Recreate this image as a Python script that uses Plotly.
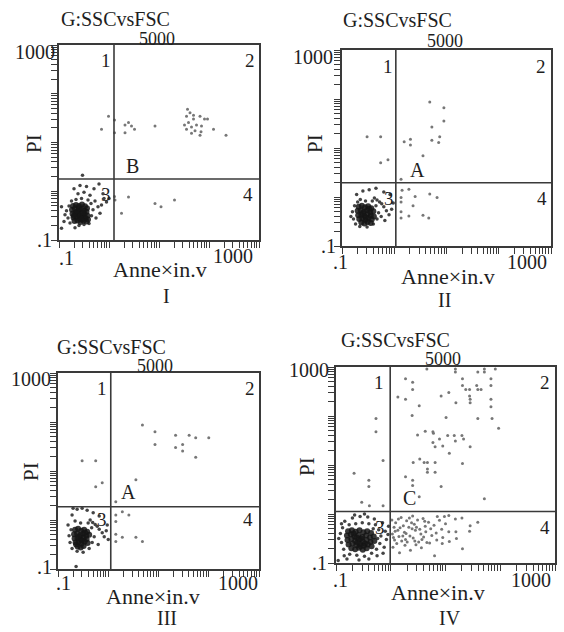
import numpy as np
import plotly.graph_objects as go

W, H = 564, 632

# ---------------- data (values in log10 decades of intensity) ----------------
panel_names = ["I", "II", "III", "IV"]
region_letters = ["B", "A", "A", "C"]
quadrant_labels = ["1", "2", "3", "4"]
x_tick_labels = [".1", "1000"]
y_tick_labels = [".1", "1000"]
top_label = "5000"
gate_title = "G:SSCvsFSC"
x_title = "Anne×in.v"
y_title = "PI"

# quadrant gate positions (log10 units)
gate_x = [0.10, 0.03, 0.05, -0.01]
gate_y = [0.25, 0.29, 0.27, 0.05]

# Panel I
pI_core = [(-0.72,-0.30),(-0.66,-0.28),(-0.60,-0.30),(-0.54,-0.27),(-0.48,-0.31),(-0.44,-0.35),
    (-0.74,-0.38),(-0.68,-0.36),(-0.62,-0.40),(-0.56,-0.37),(-0.50,-0.40),(-0.45,-0.42),
    (-0.73,-0.46),(-0.67,-0.45),(-0.61,-0.48),(-0.55,-0.45),(-0.49,-0.47),(-0.43,-0.50),
    (-0.71,-0.54),(-0.65,-0.53),(-0.59,-0.56),(-0.53,-0.52),(-0.47,-0.55),(-0.42,-0.58),
    (-0.69,-0.61),(-0.63,-0.60),(-0.57,-0.63),(-0.51,-0.60),(-0.45,-0.62),
    (-0.64,-0.42),(-0.58,-0.51),(-0.52,-0.44),(-0.70,-0.50),(-0.60,-0.35),(-0.55,-0.58)]
pI_halo = [(-0.85,-0.40),(-0.82,-0.55),(-0.80,-0.30),(-0.88,-0.48),(-0.78,-0.65),(-0.60,-0.70),
    (-0.50,-0.68),(-0.40,-0.66),(-0.35,-0.50),(-0.32,-0.38),(-0.36,-0.25),(-0.42,-0.18),
    (-0.55,-0.15),(-0.66,-0.17),(-0.75,-0.20),(-0.62,-0.05),(-0.50,-0.02),(-0.38,-0.08),
    (-0.28,-0.20),(-0.22,-0.32),(-0.15,-0.28),(-0.10,-0.15),(-0.05,-0.22),(-0.18,-0.45),
    (-0.26,-0.55),(-0.70,0.05),(-0.58,0.12),(-0.45,0.10),(-0.30,0.05),(-0.20,0.15),
    (-0.53,0.33),(-0.95,-0.76),(-0.95,-0.32),(-0.90,-0.62),(-0.68,-0.75),(-0.12,-0.05),(0.00,-0.15)]
pI_scatter = [(-0.01,1.54),(0.11,1.46),(-0.15,1.27),(0.11,1.20),(0.32,1.36),(0.39,1.41),(0.45,1.34),
    (0.32,1.20),(0.51,1.27),(0.92,1.34),(1.57,1.68),(1.62,1.61),(1.55,1.54),(1.69,1.56),(1.82,1.54),
    (1.91,1.48),(1.97,1.48),(1.69,1.48),(1.51,1.36),(1.59,1.41),(1.65,1.32),(1.75,1.36),(1.85,1.34),
    (1.55,1.27),(1.72,1.24),(1.84,1.22),(1.65,1.19),(1.82,1.15),(2.09,1.27),(2.34,1.15),
    (0.11,-0.11),(0.12,-0.18),(0.39,-0.12),(0.25,-0.45),(1.04,-0.32),(1.31,-0.18),(0.92,-0.25)]

# Panel II
pII_core = [(-0.68,-0.20),(-0.62,-0.18),(-0.56,-0.21),(-0.50,-0.19),(-0.44,-0.23),
    (-0.70,-0.28),(-0.64,-0.27),(-0.58,-0.30),(-0.52,-0.27),(-0.46,-0.31),(-0.40,-0.29),
    (-0.69,-0.37),(-0.63,-0.36),(-0.57,-0.39),(-0.51,-0.35),(-0.45,-0.38),(-0.39,-0.40),
    (-0.67,-0.45),(-0.61,-0.44),(-0.55,-0.47),(-0.49,-0.43),(-0.43,-0.46),
    (-0.63,-0.52),(-0.57,-0.54),(-0.51,-0.51),(-0.45,-0.53),(-0.60,-0.33),(-0.54,-0.42),(-0.48,-0.24)]
pII_halo = [(-0.80,-0.30),(-0.78,-0.45),(-0.76,-0.18),(-0.74,-0.55),(-0.66,-0.60),(-0.52,-0.61),
    (-0.40,-0.55),(-0.33,-0.45),(-0.30,-0.32),(-0.35,-0.18),(-0.42,-0.08),(-0.38,-0.02),
    (-0.33,-0.06),(-0.28,-0.10),(-0.24,-0.14),(-0.20,-0.20),(-0.15,-0.28),(-0.10,-0.36),
    (-0.05,-0.25),(-0.02,-0.12),(-0.55,-0.08),(-0.65,-0.05),(-0.72,0.05),(-0.60,0.12),
    (-0.48,0.15),(-0.35,0.18),(-0.20,0.10),(-0.08,0.05),(-0.83,-0.40),(-0.18,-0.48),
    (-0.25,-0.40),(-0.70,-0.10)]
pII_scatter = [(0.68,1.94),(0.95,1.82),(0.95,1.55),(0.72,1.43),(-0.52,1.23),(-0.26,1.23),(0.87,1.23),
    (0.31,1.18),(0.72,1.16),(0.85,1.11),(0.19,1.13),(0.31,1.06),(0.55,0.84),(-0.12,0.76),(-0.26,0.70),
    (0.13,0.36),(0.15,0.14),(0.28,0.16),(0.13,-0.01),(0.13,-0.10),(0.68,0.06),(0.82,-0.01),(0.40,0.01),
    (0.13,-0.30),(0.13,-0.43),(0.28,-0.39),(0.55,-0.37),(0.66,-0.43),(0.36,-0.18)]

# Panel III
pIII_core = [(-0.66,-0.20),(-0.60,-0.18),(-0.54,-0.22),(-0.48,-0.20),(-0.42,-0.24),
    (-0.68,-0.29),(-0.62,-0.28),(-0.56,-0.31),(-0.50,-0.28),(-0.44,-0.32),(-0.38,-0.30),
    (-0.67,-0.38),(-0.61,-0.37),(-0.55,-0.40),(-0.49,-0.36),(-0.43,-0.39),
    (-0.65,-0.46),(-0.59,-0.45),(-0.53,-0.48),(-0.47,-0.44),(-0.41,-0.47),
    (-0.61,-0.54),(-0.55,-0.56),(-0.49,-0.53),(-0.58,-0.34),(-0.52,-0.42),(-0.46,-0.26),(-0.64,-0.50)]
pIII_halo = [(-0.78,-0.32),(-0.76,-0.46),(-0.74,-0.20),(-0.72,-0.58),(-0.62,-0.64),(-0.50,-0.66),
    (-0.38,-0.58),(-0.32,-0.46),(-0.28,-0.34),(-0.33,-0.16),(-0.40,-0.06),(-0.36,0.00),
    (-0.31,-0.05),(-0.26,-0.09),(-0.22,-0.13),(-0.18,-0.19),(-0.12,-0.26),(-0.08,-0.34),
    (-0.04,-0.22),(-0.02,-0.10),(0.00,-0.40),(-0.55,-0.06),(-0.66,-0.02),(-0.72,0.10),
    (-0.62,0.22),(-0.52,0.24),(-0.42,0.20),(-0.30,0.15),(-0.18,0.08),(-0.70,0.24),
    (-0.64,-0.95),(-0.20,-0.50),(-0.80,-0.10)]
pIII_scatter = [(0.68,1.94),(0.93,1.80),(0.93,1.54),(1.34,1.73),(1.61,1.73),(1.74,1.68),(2.00,1.68),
    (1.34,1.48),(1.48,1.54),(1.48,1.41),(1.74,1.28),(-0.52,1.21),(-0.25,1.21),(-0.25,0.68),(-0.12,0.76),
    (0.55,0.82),(0.15,0.37),(0.15,0.10),(0.28,0.17),(0.15,-0.03),(0.15,-0.29),(0.28,-0.35),(0.55,-0.35),
    (0.68,-0.44),(0.15,-0.44),(0.41,0.10)]

# Panel IV
pIV_core = [(-0.78,-0.35),(-0.71,-0.33),(-0.64,-0.36),(-0.57,-0.33),(-0.50,-0.37),(-0.43,-0.35),(-0.36,-0.39),
    (-0.80,-0.44),(-0.73,-0.42),(-0.66,-0.46),(-0.59,-0.43),(-0.52,-0.47),(-0.45,-0.44),(-0.38,-0.48),(-0.31,-0.46),
    (-0.79,-0.53),(-0.72,-0.51),(-0.65,-0.55),(-0.58,-0.52),(-0.51,-0.56),(-0.44,-0.53),(-0.37,-0.57),(-0.30,-0.55),
    (-0.77,-0.62),(-0.70,-0.60),(-0.63,-0.64),(-0.56,-0.61),(-0.49,-0.65),(-0.42,-0.62),(-0.35,-0.66),
    (-0.72,-0.70),(-0.65,-0.72),(-0.58,-0.69),(-0.51,-0.73),(-0.44,-0.70),
    (-0.68,-0.40),(-0.61,-0.58),(-0.54,-0.50),(-0.47,-0.60),(-0.62,-0.48),(-0.55,-0.66)]
pIV_halo = [(-0.92,-0.40),(-0.90,-0.58),(-0.88,-0.28),(-0.86,-0.72),(-0.84,-0.15),(-0.75,-0.82),
    (-0.62,-0.84),(-0.48,-0.86),(-0.35,-0.80),(-0.26,-0.72),(-0.20,-0.60),(-0.18,-0.45),
    (-0.22,-0.32),(-0.28,-0.22),(-0.40,-0.20),(-0.52,-0.18),(-0.64,-0.20),(-0.76,-0.22),
    (-0.70,-0.08),(-0.56,-0.05),(-0.42,-0.06),(-0.30,-0.10),(-0.15,-0.18),(-0.10,-0.35),
    (-0.08,-0.52),(-0.12,-0.68),(-0.05,-0.42),(-0.04,-0.25),(-0.96,-0.95),(-0.80,-0.92),
    (-0.58,-0.94),(-0.40,-0.92),(-0.95,-0.50),(-0.66,-0.02),(-0.48,0.00),(-0.25,-0.85),(-0.14,-0.80),
    (-0.90,-0.20),(-0.85,-0.85),(-0.32,-0.30),(-0.24,-0.50)]
pIV_scatter = [(-0.27,1.95),(-0.27,1.68),(-0.14,1.09),(-0.67,0.83),(-0.40,0.69),(-0.40,0.56),(-0.53,0.24),
    (-0.39,0.17),(-0.14,0.17),
    (0.66,2.96),(1.18,2.96),(1.18,2.90),(1.59,2.90),(1.71,2.96),(1.91,2.96),(1.71,2.90),(0.27,2.76),
    (0.40,2.69),(0.40,2.54),(1.31,2.76),(1.31,2.62),(1.57,2.62),(1.59,2.54),(1.44,2.54),(1.37,2.54),
    (1.83,2.76),(1.83,2.62),(1.65,2.54),(0.13,2.39),(0.27,2.34),(0.92,2.41),(1.06,2.48),(1.19,2.27),
    (1.44,2.41),(1.45,2.34),(1.45,2.27),(1.83,2.34),(1.83,2.19),(0.52,2.21),(0.39,2.01),(1.01,1.97),
    (1.59,1.95),(1.85,1.95),(1.97,1.75),(0.49,1.61),(0.63,1.69),(0.77,1.68),(0.78,1.65),(0.89,1.53),
    (1.04,1.60),(1.16,1.60),(1.30,1.60),(1.18,1.49),(0.77,1.46),(0.81,1.37),(0.95,1.39),(1.33,1.53),
    (1.45,1.37),(1.07,1.24),(0.41,1.05),(0.53,1.12),(0.61,1.05),(0.67,1.05),(0.67,0.92),(0.67,0.85),
    (0.81,1.05),(0.81,0.85),(1.31,1.03),(0.27,0.76),(0.40,0.69),(0.40,0.58),(0.92,0.56),(0.52,0.35),
    (1.71,0.31),
    (0.02,-0.12),(0.06,-0.27),(0.03,-0.41),(0.07,-0.53),(0.04,-0.68),(0.09,-0.18),(0.13,-0.33),
    (0.15,-0.46),(0.11,-0.60),(0.16,-0.79),(0.19,-0.07),(0.23,-0.24),(0.25,-0.37),(0.20,-0.55),
    (0.26,-0.64),(0.29,-0.14),(0.33,-0.27),(0.35,-0.45),(0.30,-0.57),(0.36,-0.74),(0.40,-0.04),
    (0.43,-0.21),(0.45,-0.33),(0.41,-0.49),(0.46,-0.63),(0.49,-0.12),(0.53,-0.31),(0.55,-0.41),
    (0.51,-0.57),(0.56,-0.69),(0.59,-0.09),(0.63,-0.25),(0.64,-0.36),(0.60,-0.47),(0.66,-0.58),
    (0.69,-0.17),(0.73,-0.30),(0.75,-0.44),(0.71,-0.59),(0.79,-0.23),(0.83,-0.39),(0.80,-0.85),
    (0.84,-0.53),(0.89,-0.13),(0.93,-0.31),(0.95,-0.48),(1.06,-0.03),(1.18,-0.10),(1.45,-0.24),
    (1.59,-0.17),(1.44,-0.35),(1.31,-0.71),(1.06,-0.36),(0.94,-0.60),(1.07,-0.56),(1.19,-0.36),
    (1.00,-0.20),(1.20,-0.50),(0.85,-0.05),(0.98,-0.05),(1.30,-0.08),
    (0.08,-0.35),(0.17,-0.28),(0.28,-0.40),(0.38,-0.18),(0.47,-0.27),(0.57,-0.52),(0.14,-0.10),
    (0.34,-0.08),(0.22,-0.45),(0.44,-0.55),(0.62,-0.15),(0.05,-0.48),(0.27,-0.52),(0.39,-0.30)]

cores = [pI_core, pII_core, pIII_core, pIV_core]
halos = [pI_halo, pII_halo, pIII_halo, pIV_halo]
scatters = [pI_scatter, pII_scatter, pIII_scatter, pIV_scatter]

# ---------------- layout (pixel boxes of the four plot frames) ----------------
boxes = [(59, 45, 259, 240), (342, 50, 551, 246), (58, 373, 259, 569), (336, 367, 555, 563)]
# text anchor pixel positions per panel
txt = [
    dict(title=(115, 19), top=(157, 39), y1000=(56, 52), y01=(53, 240), x01=(66, 258), x1000=(233, 256),
         xt=(160, 269), yt=(34, 144), q=[(106, 61), (250, 61), (106, 194), (248, 194)], let=(132, 166), name=(166, 296)),
    dict(title=(397, 20), top=(445, 41), y1000=(334, 57), y01=(337, 246), x01=(340, 262), x1000=(527, 262),
         xt=(448, 276), yt=(315, 143), q=[(388, 66), (541, 66), (389, 198), (542, 198)], let=(417, 170), name=(444, 300)),
    dict(title=(111, 347), top=(155, 366), y1000=(52, 379), y01=(53, 567), x01=(63, 583), x1000=(238, 583),
         xt=(153, 596), yt=(31, 472), q=[(102, 388), (250, 388), (102, 519), (248, 519)], let=(128, 492), name=(167, 618)),
    dict(title=(395, 340), top=(443, 359), y1000=(330, 370), y01=(328, 563), x01=(340, 580), x1000=(531, 580),
         xt=(438, 592), yt=(307, 467), q=[(379, 382), (545, 382), (380, 527), (545, 527)], let=(409, 498), name=(450, 618)),
]

FONT = "Liberation Serif"
TXT_COL = "#1e1e1e"
LINE_COL = "#3a3a3a"

minor_ticks = [float(np.log10(k * 10.0 ** e)) for e in range(-1, 3) for k in range(1, 10)] + [3.0]

fig = go.Figure()
annotations = []
shapes = []


def ann(text, p, size=20, xanchor="center", angle=0):
    return dict(text=text, x=p[0] / W, y=1 - p[1] / H, xref="paper", yref="paper",
                showarrow=False, textangle=angle, xanchor=xanchor, yanchor="middle",
                borderpad=0, font=dict(family=FONT, size=size, color=TXT_COL))


for i in range(4):
    n = "" if i == 0 else str(i + 1)
    L, T, R, B = boxes[i]
    ax_common = dict(range=[-1, 3], tickvals=minor_ticks, showticklabels=False, ticks="outside",
                     ticklen=6, tickwidth=1, tickcolor=LINE_COL, showline=True, mirror=True,
                     linecolor=LINE_COL, linewidth=1.6, showgrid=False, zeroline=False, fixedrange=True)
    fig.layout["xaxis" + n] = dict(domain=[L / W, R / W], anchor="y" + n, **ax_common)
    fig.layout["yaxis" + n] = dict(domain=[1 - B / H, 1 - T / H], anchor="x" + n, **ax_common)

    sx, sy = zip(*scatters[i])
    hx, hy = zip(*halos[i])
    cx, cy = zip(*cores[i])
    fig.add_trace(go.Scatter(x=sx, y=sy, mode="markers", xaxis="x" + n, yaxis="y" + n,
                             marker=dict(size=3, color="#777777"), showlegend=False, hoverinfo="skip"))
    fig.add_trace(go.Scatter(x=hx, y=hy, mode="markers", xaxis="x" + n, yaxis="y" + n,
                             marker=dict(size=3.5, color="#444444"), showlegend=False, hoverinfo="skip"))
    fig.add_trace(go.Scatter(x=cx, y=cy, mode="markers", xaxis="x" + n, yaxis="y" + n,
                             marker=dict(size=6, color="#151515", opacity=0.85), showlegend=False,
                             hoverinfo="skip"))

    # quadrant gates
    shapes.append(dict(type="line", xref="x" + n, yref="y" + n + " domain", x0=gate_x[i], x1=gate_x[i],
                       y0=0, y1=1, line=dict(color=LINE_COL, width=1.6)))
    shapes.append(dict(type="line", xref="x" + n + " domain", yref="y" + n, x0=0, x1=1,
                       y0=gate_y[i], y1=gate_y[i], line=dict(color=LINE_COL, width=1.6)))

    t = txt[i]
    annotations.append(ann(gate_title, t["title"], 20))
    annotations.append(ann(top_label, t["top"], 18))
    annotations.append(ann(y_tick_labels[1], t["y1000"], 20, xanchor="right"))
    annotations.append(ann(y_tick_labels[0], t["y01"], 20, xanchor="right"))
    annotations.append(ann(x_tick_labels[0], t["x01"], 20))
    annotations.append(ann(x_tick_labels[1], t["x1000"], 20))
    annotations.append(ann(x_title, t["xt"], 22))
    annotations.append(ann(y_title, t["yt"], 21, angle=-90))
    for q, lab in zip(t["q"], quadrant_labels):
        annotations.append(ann(lab, q, 19))
    annotations.append(ann(region_letters[i], t["let"], 20))
    annotations.append(ann(panel_names[i], t["name"], 20))

fig.update_layout(width=W, height=H, margin=dict(l=0, r=0, t=0, b=0),
                  paper_bgcolor="white", plot_bgcolor="white",
                  annotations=annotations, shapes=shapes, showlegend=False)

# remove the browser's default 8px page margin so the figure sits at the window origin
fig.write_html("out.html", config={"displayModeBar": False},
               post_script="document.body.style.margin='0px';")
